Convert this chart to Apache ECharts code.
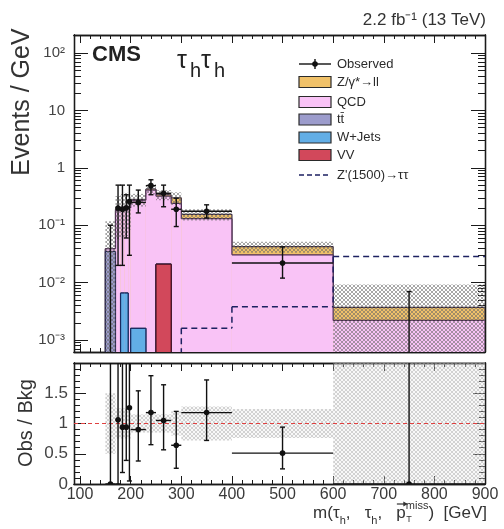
<!DOCTYPE html>
<html>
<head>
<meta charset="utf-8">
<title>CMS tau_h tau_h</title>
<script src="https://cdn.jsdelivr.net/npm/echarts@6.0.0/dist/echarts.min.js"></script>
<style>
html,body{margin:0;padding:0;background:#ffffff;}
#chart{width:504px;height:529px;}
</style>
</head>
<body>
<div id="chart"></div>
<script>
// ---------- values (Events / GeV) ----------
const binEdges     = [150, 170, 180, 187.5, 195, 200, 230, 250, 280, 300, 400, 600, 900];
const vvValues     = [0, 0, 0, 0, 0, 0, 0, 0.021, 0, 0, 0, 0];
const wjetsValues  = [0, 0, 0.0066, 0.0066, 0, 0.0016, 0, 0, 0, 0, 0, 0];
const ttbarValues  = [0.035, 0, 0, 0, 0, 0, 0, 0, 0, 0, 0, 0];
const qcdValues    = [0.004, 0.18, 0.19, 0.2, 0.2, 0.27, 0.41, 0.30, 0.24, 0.13, 0.0305, 0.0022];
const dyValues     = [0, 0.01, 0.01, 0.01, 0.01, 0.01, 0.02, 0.02, 0.06, 0.025, 0.012, 0.0015];
const bkgRelUnc    = [2.0, 0.7, 0.7, 0.7, 0.6, 0.25, 0.2, 0.2, 0.25, 0.22, 0.22, 1.5];
const ratioBandRel = [0.5, 0.25, 0.25, 0.25, 0.25, 0.15, 0.15, 0.15, 0.2, 0.28, 0.24, 1.5];
const zprimeValues = [0, 0, 0, 0, 0, 0, 0, 0, 0, 0.0016, 0.0038, 0.0285];
const obsValues    = [0, 0.2, 0.19, 0.2, 0.26, 0.25, 0.49, 0.36, 0.19, 0.175, 0.022, 0];
const obsLow       = [0, 0.02, 0.02, 0.06, 0.03, 0.164, 0.34, 0.21, 0.095, 0.134, 0.012, 0];
const obsHigh      = [0.1, 0.5, 0.5, 0.34, 0.5, 0.41, 0.62, 0.5, 0.296, 0.227, 0.042, 0.007];
const ratioValues  = [0, 1.06, 0.94, 0.94, 1.26, 0.9, 1.18, 1.05, 0.64, 1.18, 0.51, 0];
const ratioLow     = [0, 0, 0.19, 0.39, 0.05, 0.38, 0.65, 0.565, 0.26, 0.72, 0.25, 0];
const ratioHigh    = [3, 3, 3, 3, 3, 1.54, 1.79, 1.64, 1.2, 1.72, 0.94, 3];
const xTickLabels  = [100, 200, 300, 400, 500, 600, 700, 800, 900];
const yTickValues  = [0.001, 0.01, 0.1, 1, 10, 100];
const yTickLabels  = ['10⁻³', '10⁻²', '10⁻¹', '1', '10', '10²'];
const ratioTickValues = [0, 0.5, 1, 1.5];

// ---------- layout / style ----------
const FONT = '"Liberation Sans", Arial, Helvetica, sans-serif';
const X_MIN = 88, X_MAX = 900;
const Y_MIN = 6.2e-4, Y_MAX = 206;
const R_MIN = 0, R_MAX = 2;
const FRAME = '#1a1a1a';
const COL = {
  dy: '#f0c169', qcd: '#f9c3f6', tt: '#9c9ccc', wj: '#62aee6', vv: '#d2485b',
  zp: '#1d2161', obs: '#111111'
};

// cumulative stack (bottom -> top: VV, W+Jets, ttbar, QCD, Z/gamma*)
const cum1 = vvValues.slice();
const cum2 = cum1.map((v, i) => v + wjetsValues[i]);
const cum3 = cum2.map((v, i) => v + ttbarValues[i]);
const cum4 = cum3.map((v, i) => v + qcdValues[i]);
const cum5 = cum4.map((v, i) => v + dyValues[i]);

// tick positions (decoration only)
const xMinorTicks = [];
for (let v = 100; v <= 900; v += 20) if (v % 100 !== 0) xMinorTicks.push(v);
const yMajorLog = yTickValues.map(v => Math.log10(v));
const yMinorLog = [];
for (let d = -4; d <= 2; d++) for (let k = 2; k <= 9; k++) {
  const v = k * Math.pow(10, d);
  if (v > Y_MIN && v < Y_MAX) yMinorLog.push(Math.log10(v));
}
const rMajorTicks = [0, 0.5, 1, 1.5, 2];
const rMinorTicks = [];
for (let k = 1; k < 20; k++) if (k % 5 !== 0) rMinorTicks.push(k / 10);

// hatch patterns
function makeHatch(stroke, bg) {
  const c = document.createElement('canvas');
  c.width = 4; c.height = 4;
  const g = c.getContext('2d');
  if (bg) { g.fillStyle = bg; g.fillRect(0, 0, 4, 4); }
  g.strokeStyle = stroke; g.lineWidth = 0.9;
  g.beginPath();
  g.moveTo(0, 0); g.lineTo(4, 4);
  g.moveTo(4, 0); g.lineTo(0, 4);
  g.stroke();
  return { image: c, repeat: 'repeat' };
}
const hatchTop = makeHatch('rgba(105,105,105,0.65)', null);
const hatchRatio = makeHatch('rgba(165,165,165,0.5)', 'rgba(232,232,232,0.3)');

// ---------- axes ----------
function xAx(grid, position, ticks, len, showLabels) {
  return {
    type: 'value', gridIndex: grid, position, min: X_MIN, max: X_MAX,
    axisLine: { show: true, onZero: false, lineStyle: { color: FRAME, width: 1.3 } },
    axisTick: { show: true, inside: true, length: len, customValues: ticks, lineStyle: { color: FRAME, width: 1 } },
    axisLabel: showLabels
      ? { show: true, customValues: xTickLabels, margin: 3, fontSize: 16, color: '#3a3a3a', fontFamily: FONT }
      : { show: false },
    splitLine: { show: false }
  };
}
function yDec(grid, position, min, max, ticks, len, label) {
  return {
    type: 'value', gridIndex: grid, position, min, max,
    axisLine: { show: true, onZero: false, lineStyle: { color: FRAME, width: 1.3 } },
    axisTick: { show: true, inside: true, length: len, customValues: ticks, lineStyle: { color: FRAME, width: 1 } },
    axisLabel: label || { show: false },
    splitLine: { show: false }
  };
}
const LOGMIN = Math.log10(Y_MIN), LOGMAX = Math.log10(Y_MAX);

const xAxes = [
  xAx(0, 'bottom', xTickLabels, 8, false),
  xAx(0, 'bottom', xMinorTicks, 4, false),
  xAx(0, 'top', xTickLabels, 8, false),
  xAx(0, 'top', xMinorTicks, 4, false),
  xAx(1, 'bottom', xTickLabels, 8, true),
  xAx(1, 'bottom', xMinorTicks, 4, false),
  xAx(1, 'top', xTickLabels, 8, false),
  xAx(1, 'top', xMinorTicks, 4, false)
];
const yAxes = [
  { type: 'log', logBase: 10, gridIndex: 0, min: Y_MIN, max: Y_MAX, show: false },
  yDec(0, 'left', LOGMIN, LOGMAX, yMajorLog, 14, {
    show: true, customValues: yMajorLog, margin: 9, fontSize: 15, color: '#444', fontFamily: FONT,
    formatter: v => { const i = yMajorLog.findIndex(t => Math.abs(t - v) < 1e-6); return i >= 0 ? yTickLabels[i] : ''; }
  }),
  yDec(0, 'left', LOGMIN, LOGMAX, yMinorLog, 7),
  yDec(0, 'right', LOGMIN, LOGMAX, yMajorLog, 14),
  yDec(0, 'right', LOGMIN, LOGMAX, yMinorLog, 7),
  { type: 'value', gridIndex: 1, min: R_MIN, max: R_MAX, show: false },
  yDec(1, 'left', R_MIN, R_MAX, rMajorTicks, 12, {
    show: true, customValues: ratioTickValues, margin: 6, fontSize: 17, color: '#444', fontFamily: FONT
  }),
  yDec(1, 'left', R_MIN, R_MAX, rMinorTicks, 6),
  yDec(1, 'right', R_MIN, R_MAX, rMajorTicks, 12),
  yDec(1, 'right', R_MIN, R_MAX, rMinorTicks, 6)
];

// ---------- renderers ----------
function seg(a, b, style) {
  return { type: 'line', shape: { x1: a[0], y1: a[1], x2: b[0], y2: b[1] }, style };
}
function stepOutline(api, vals, i, style, closeRight) {
  const out = [];
  const x0 = binEdges[i], x1 = binEdges[i + 1];
  const v = vals[i], prev = i > 0 ? vals[i - 1] : 0;
  const yv = v > 0 ? v : Y_MIN, yp = prev > 0 ? prev : Y_MIN;
  if (v > 0) out.push(seg(api.coord([x0, v]), api.coord([x1, v]), style));
  if (yv !== yp) out.push(seg(api.coord([x0, yv]), api.coord([x0, yp]), style));
  if (closeRight && i === vals.length - 1 && v > 0) out.push(seg(api.coord([x1, v]), api.coord([x1, Y_MIN]), style));
  return out;
}
function histSeries(name, vals, fill, stroke, z) {
  return {
    type: 'custom', name, xAxisIndex: 0, yAxisIndex: 0, z, clip: true, silent: true,
    data: vals.map((v, i) => [binEdges[i], binEdges[i + 1], v > 0 ? v : null]),
    encode: { x: [0, 1], y: 2 },
    renderItem: (params, api) => {
      const i = params.dataIndex, v = vals[i];
      const ch = [];
      if (v > 0) {
        const a = api.coord([binEdges[i], v]), b = api.coord([binEdges[i + 1], Y_MIN]);
        ch.push({ type: 'rect', shape: { x: a[0], y: a[1], width: b[0] - a[0], height: b[1] - a[1] }, style: { fill } });
      }
      stepOutline(api, vals, i, { stroke, lineWidth: 1.2 }, true).forEach(s => ch.push(s));
      return { type: 'group', children: ch };
    }
  };
}
function bandSeries(xi, yi, lo, hi, fill, floor, ceil, z) {
  return {
    type: 'custom', xAxisIndex: xi, yAxisIndex: yi, z, clip: true, silent: true,
    data: hi.map((v, i) => [binEdges[i], binEdges[i + 1], v]),
    encode: { x: [0, 1], y: 2 },
    renderItem: (params, api) => {
      const i = params.dataIndex;
      const top = Math.min(hi[i], ceil);
      const bot = lo[i] > floor ? lo[i] : floor;
      const a = api.coord([binEdges[i], top]), b = api.coord([binEdges[i + 1], bot]);
      return { type: 'rect', shape: { x: a[0], y: a[1], width: b[0] - a[0], height: b[1] - a[1] }, style: { fill } };
    }
  };
}
function obsSeries(xi, yi, vals, lo, hi, logMode, z) {
  const st = { stroke: COL.obs, lineWidth: 1.4 };
  const floor = logMode ? Y_MIN : R_MIN;
  return {
    type: 'custom', xAxisIndex: xi, yAxisIndex: yi, z, clip: true, silent: true,
    data: vals.map((v, i) => [(binEdges[i] + binEdges[i + 1]) / 2, (logMode && v <= 0) ? null : v]),
    encode: { x: 0, y: 1 },
    renderItem: (params, api) => {
      const i = params.dataIndex, v = vals[i];
      const xc = (binEdges[i] + binEdges[i + 1]) / 2;
      const ch = [];
      const l = (logMode && lo[i] <= 0) ? floor : lo[i];
      const pHi = api.coord([xc, hi[i]]), pLo = api.coord([xc, l]);
      ch.push(seg(pHi, pLo, st));
      ch.push(seg([pHi[0] - 2.5, pHi[1]], [pHi[0] + 2.5, pHi[1]], st));
      if (!(logMode && lo[i] <= 0)) ch.push(seg([pLo[0] - 2.5, pLo[1]], [pLo[0] + 2.5, pLo[1]], st));
      if (!logMode || v > 0) {
        const a = api.coord([binEdges[i], v]), b = api.coord([binEdges[i + 1], v]);
        ch.push(seg(a, b, st));
        const c = api.coord([xc, v]);
        ch.push({ type: 'circle', shape: { cx: c[0], cy: c[1], r: 2.8 }, style: { fill: COL.obs } });
      }
      return { type: 'group', children: ch };
    }
  };
}
const zprimeSeries = {
  type: 'custom', xAxisIndex: 0, yAxisIndex: 0, z: 8, clip: true, silent: true,
  data: zprimeValues.map((v, i) => [binEdges[i], binEdges[i + 1], v > 0 ? v : null]),
  encode: { x: [0, 1], y: 2 },
  renderItem: (params, api) => ({
    type: 'group',
    children: stepOutline(api, zprimeValues, params.dataIndex, { stroke: COL.zp, lineWidth: 1.5, lineDash: [6, 4] }, false)
  })
};

// ---------- legend & texts ----------
const LX = 299, LW = 32, TX = 337;
const rows = [64, 82, 102, 119.5, 137.5, 155, 175];
const legendFill = [
  ['Z/γ*→ll', COL.dy], ['QCD', COL.qcd], ['tt̄', COL.tt], ['W+Jets', COL.wj], ['VV', COL.vv]
];
const txt = (x, y, text, size, opts) => Object.assign({
  type: 'text', x, y, z: 100,
  style: Object.assign({ text, fontSize: size, fontFamily: FONT, fill: '#2b2b2b', align: 'left', verticalAlign: 'middle' }, opts || {})
});
const graphics = [];
graphics.push({ type: 'line', z: 100, shape: { x1: LX, y1: rows[0], x2: LX + LW, y2: rows[0] }, style: { stroke: COL.obs, lineWidth: 1.4 } });
graphics.push({ type: 'line', z: 100, shape: { x1: LX + LW / 2, y1: rows[0] - 5, x2: LX + LW / 2, y2: rows[0] + 5 }, style: { stroke: COL.obs, lineWidth: 1.4 } });
graphics.push({ type: 'circle', z: 100, shape: { cx: LX + LW / 2, cy: rows[0], r: 2.8 }, style: { fill: COL.obs } });
graphics.push(txt(TX, rows[0], 'Observed', 13));
legendFill.forEach((e, k) => {
  const y = rows[k + 1];
  graphics.push({ type: 'rect', z: 100, shape: { x: LX, y: y - 5.5, width: LW, height: 11 }, style: { fill: e[1], stroke: '#2a2a2a', lineWidth: 1.2 } });
  graphics.push(txt(TX, y, e[0], 13));
});
graphics.push({ type: 'line', z: 100, shape: { x1: LX, y1: rows[6], x2: LX + LW, y2: rows[6] }, style: { stroke: COL.zp, lineWidth: 1.5, lineDash: [5, 3] } });
graphics.push(txt(TX, rows[6], "Z'(1500)→ττ", 13));

graphics.push(txt(486, 20, '2.2 fb⁻¹ (13 TeV)', 17, { align: 'right', fill: '#333' }));
graphics.push(txt(92, 55, 'CMS', 22, { fontWeight: 'bold', fill: '#222' }));
graphics.push(txt(177, 61, 'τ', 25, { fill: '#222' }));
graphics.push(txt(190, 71, 'h', 20, { fill: '#222' }));
graphics.push(txt(201, 61, 'τ', 25, { fill: '#222' }));
graphics.push(txt(214, 71, 'h', 20, { fill: '#222' }));
graphics.push(Object.assign(txt(22, 102, 'Events / GeV', 25, { align: 'center', fill: '#333' }), { rotation: Math.PI / 2 }));
graphics.push(Object.assign(txt(26, 423, 'Obs / Bkg', 20, { align: 'center', fill: '#333' }), { rotation: Math.PI / 2 }));

// x-axis title: m(tau_h, tau_h, p_T^miss) [GeV]
const XT_R = 487, XT_Y = 513, XT_N = 17, XT_S = 11;
const mctx = document.createElement('canvas').getContext('2d');
function tw(s, size) { mctx.font = size + 'px ' + FONT; return mctx.measureText(s).width; }
graphics.push({
  type: 'text', x: XT_R, y: XT_Y, z: 100,
  style: {
    text: '{n|m(τ}{s|h}{n|,   τ}{s|h}{n|,   p}{u|miss}{n|)  [GeV]}',
    align: 'right', verticalAlign: 'middle', fontFamily: FONT, fill: '#333',
    rich: {
      n: { fontSize: XT_N, lineHeight: 26, fontFamily: FONT, fill: '#333' },
      s: { fontSize: XT_S, lineHeight: 13, verticalAlign: 'bottom', fontFamily: FONT, fill: '#333' },
      u: { fontSize: XT_S, lineHeight: 13, verticalAlign: 'top', fontFamily: FONT, fill: '#333' }
    }
  }
});
const pRight = XT_R - tw(')  [GeV]', XT_N) - tw('miss', XT_S);
const pLeft = pRight - tw('p', XT_N);
const arrowY = XT_Y - 9;
graphics.push({ type: 'line', z: 100, shape: { x1: pLeft + 0.5, y1: arrowY, x2: pRight + 0.5, y2: arrowY }, style: { stroke: '#333', lineWidth: 1.2 } });
graphics.push({ type: 'polygon', z: 100, shape: { points: [[pRight + 2, arrowY], [pRight - 2.5, arrowY - 2.5], [pRight - 2.5, arrowY + 2.5]] }, style: { fill: '#333' } });
graphics.push(txt(pRight + 0.5, XT_Y + 7, 'T', 9, { fill: '#333' }));

// ---------- option ----------
const option = {
  animation: false,
  backgroundColor: '#ffffff',
  textStyle: { fontFamily: FONT },
  grid: [
    { left: 74, top: 35, width: 411, height: 317, outerBoundsMode: 'none', containLabel: false },
    { left: 74, top: 363, width: 411, height: 121, outerBoundsMode: 'none', containLabel: false }
  ],
  xAxis: xAxes,
  yAxis: yAxes,
  series: [
    histSeries('Z/γ*→ll', cum5, COL.dy, '#3a2a3a', 2),
    histSeries('QCD', cum4, COL.qcd, '#4a2a50', 3),
    histSeries('tt', cum3, COL.tt, '#2a2a50', 4),
    histSeries('W+Jets', cum2, COL.wj, '#1a2a60', 5),
    histSeries('VV', cum1, COL.vv, '#4a1020', 6),
    bandSeries(0, 0, cum5.map((v, i) => v * (1 - bkgRelUnc[i])), cum5.map((v, i) => v * (1 + bkgRelUnc[i])), hatchTop, Y_MIN, Y_MAX, 7),
    zprimeSeries,
    obsSeries(0, 0, obsValues, obsLow, obsHigh, true, 9),
    bandSeries(4, 5, ratioBandRel.map(u => 1 - u), ratioBandRel.map(u => 1 + u), hatchRatio, R_MIN, R_MAX, 2),
    {
      type: 'line', xAxisIndex: 4, yAxisIndex: 5, z: 3, silent: true, showSymbol: false,
      data: [[X_MIN, 1], [X_MAX, 1]],
      lineStyle: { color: '#e04040', width: 1, type: [4, 3] }
    },
    obsSeries(4, 5, ratioValues, ratioLow, ratioHigh, false, 9)
  ],
  graphic: graphics
};

const chart = echarts.init(document.getElementById('chart'), null, { renderer: 'canvas' });
chart.setOption(option);
</script>
</body>
</html>
